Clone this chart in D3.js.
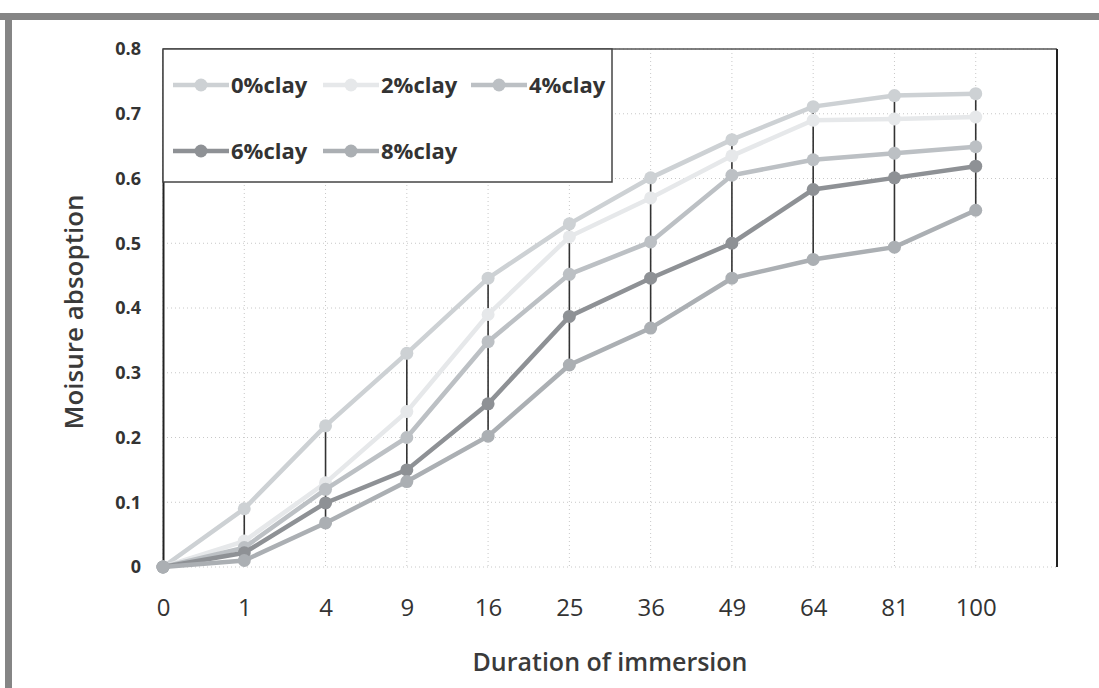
<!DOCTYPE html>
<html lang="en">
  <head>
    <meta charset="UTF-8" />
    <title>Moisture absorption vs duration of immersion</title>
    <script src="https://cdnjs.cloudflare.com/ajax/libs/d3/7.8.5/d3.min.js"></script>
    <style>
      body { margin: 0; background: #fff; }
      text { font-family: 'Open Sans', 'Noto Sans', sans-serif; }
    </style>
  </head>
  <body>
    <svg width="1099" height="688"></svg>

    <script>
      // x categories (duration of immersion)
      const categories = ['0', '1', '4', '9', '16', '25', '36', '49', '64', '81', '100']
      const seriesNames = ['0%clay', '2%clay', '4%clay', '6%clay', '8%clay']
      const clay0 = [0, 0.09, 0.218, 0.33, 0.446, 0.53, 0.601, 0.66, 0.711, 0.728, 0.731]
      const clay2 = [0, 0.04, 0.13, 0.24, 0.39, 0.51, 0.57, 0.635, 0.69, 0.692, 0.695]
      const clay4 = [0, 0.03, 0.12, 0.2, 0.348, 0.452, 0.502, 0.605, 0.629, 0.639, 0.649]
      const clay6 = [0, 0.022, 0.099, 0.15, 0.252, 0.387, 0.446, 0.5, 0.583, 0.601, 0.619]
      const clay8 = [0, 0.01, 0.068, 0.132, 0.202, 0.312, 0.369, 0.446, 0.475, 0.494, 0.551]
      const yTicks = [0, 0.1, 0.2, 0.3, 0.4, 0.5, 0.6, 0.7, 0.8]

      const seriesColors = ['#cdd1d4', '#e6e8ea', '#bcc0c4', '#8e9195', '#abafb3']
      const allSeries = [clay0, clay2, clay4, clay6, clay8]

      const svg = d3.select('svg')
      const plotLeft = 163, plotRight = 1057, plotTop = 49, plotBottom = 567

      // outer scanned frame
      svg.append('rect').attr('x', 0).attr('y', 13).attr('width', 1099).attr('height', 7).attr('fill', '#858585')
      svg.append('rect').attr('x', 5).attr('y', 13).attr('width', 7).attr('height', 675).attr('fill', '#858585')

      // index scale, one empty slot after the last category
      const x = d3.scaleLinear().domain([0, categories.length]).range([plotLeft, plotRight])
      const y = d3.scaleLinear().domain([0, 0.8]).range([plotBottom, plotTop])

      // dotted grid
      svg.append('g')
        .selectAll('line')
        .data(yTicks)
        .enter()
        .append('line')
        .attr('x1', plotLeft).attr('x2', plotRight)
        .attr('y1', (d) => y(d)).attr('y2', (d) => y(d))
        .attr('stroke', '#c8c8c8')
        .attr('stroke-dasharray', '1,3')
      svg.append('g')
        .selectAll('line')
        .data(categories)
        .enter()
        .append('line')
        .attr('x1', (d, i) => x(i)).attr('x2', (d, i) => x(i))
        .attr('y1', plotTop).attr('y2', plotBottom)
        .attr('stroke', '#c8c8c8')
        .attr('stroke-dasharray', '1,3')

      // plot box: top and right edges
      svg.append('line').attr('x1', plotLeft).attr('x2', plotRight).attr('y1', plotTop).attr('y2', plotTop)
        .attr('stroke', '#555').attr('stroke-width', 1.5)
      svg.append('line').attr('x1', plotRight).attr('x2', plotRight).attr('y1', plotTop).attr('y2', plotBottom)
        .attr('stroke', '#222').attr('stroke-width', 2)

      // y axis
      const yAxis = svg.append('g')
        .attr('transform', `translate(${plotLeft},0)`)
        .call(d3.axisLeft(y).tickValues(yTicks).tickSize(0).tickPadding(22)
          .tickFormat((d) => (d === 0 ? '0' : d3.format('.1f')(d))))
      yAxis.select('.domain').attr('stroke', '#222').attr('stroke-width', 2)
      yAxis.selectAll('text')
        .style('font-size', '18px').style('font-weight', 700).attr('fill', '#333')

      // x axis labels
      const xAxis = svg.append('g')
        .attr('transform', `translate(0,${plotBottom})`)
        .call(d3.axisBottom(x).tickValues(d3.range(categories.length)).tickSize(0).tickPadding(32)
          .tickFormat((i) => categories[i]))
      xAxis.select('.domain').remove()
      xAxis.selectAll('text')
        .style('font-size', '24px').style('font-weight', 500).attr('fill', '#333')

      // high-low lines
      svg.append('g')
        .selectAll('line')
        .data(d3.range(1, categories.length))
        .enter()
        .append('line')
        .attr('x1', (i) => x(i)).attr('x2', (i) => x(i))
        .attr('y1', (i) => y(d3.max(allSeries, (s) => s[i])))
        .attr('y2', (i) => y(d3.min(allSeries, (s) => s[i])))
        .attr('stroke', '#333').attr('stroke-width', 1.6)

      // series lines and markers
      const line = d3.line().x((d, i) => x(i)).y((d) => y(d))
      allSeries.forEach((s, k) => {
        const g = svg.append('g')
        g.append('path')
          .datum(s)
          .attr('d', line)
          .attr('fill', 'none')
          .attr('stroke', seriesColors[k])
          .attr('stroke-width', 4.5)
        g.selectAll('circle')
          .data(s)
          .enter()
          .append('circle')
          .attr('cx', (d, i) => x(i))
          .attr('cy', (d) => y(d))
          .attr('r', 6.5)
          .attr('fill', seriesColors[k])
      })

      // legend
      const legend = svg.append('g')
      legend.append('rect')
        .attr('x', plotLeft).attr('y', plotTop).attr('width', 449).attr('height', 133)
        .attr('fill', '#fff').attr('stroke', '#444').attr('stroke-width', 1.5)
      const legendPos = [[173, 85], [323, 85], [471, 85], [173, 151], [323, 151]]
      seriesNames.forEach((name, k) => {
        const [lx, ly] = legendPos[k]
        legend.append('line')
          .attr('x1', lx).attr('x2', lx + 56).attr('y1', ly).attr('y2', ly)
          .attr('stroke', seriesColors[k]).attr('stroke-width', 4.5)
        legend.append('circle')
          .attr('cx', lx + 28).attr('cy', ly).attr('r', 6.5)
          .attr('fill', seriesColors[k])
        legend.append('text')
          .attr('x', lx + 58).attr('y', ly).attr('dy', '0.35em')
          .style('font-size', '22px').style('font-weight', 700)
          .attr('fill', '#333')
          .text(name)
      })

      // axis titles
      svg.append('text')
        .attr('transform', 'translate(74,312) rotate(-90)')
        .attr('text-anchor', 'middle').attr('dy', '0.35em')
        .style('font-size', '26px').style('font-weight', 600).attr('fill', '#3a3a3a')
        .text('Moisure absoption')
      svg.append('text')
        .attr('x', 610).attr('y', 662)
        .attr('text-anchor', 'middle').attr('dy', '0.35em')
        .style('font-size', '25px').style('font-weight', 600).attr('fill', '#3a3a3a')
        .text('Duration of immersion')
    </script>
  </body>
</html>
